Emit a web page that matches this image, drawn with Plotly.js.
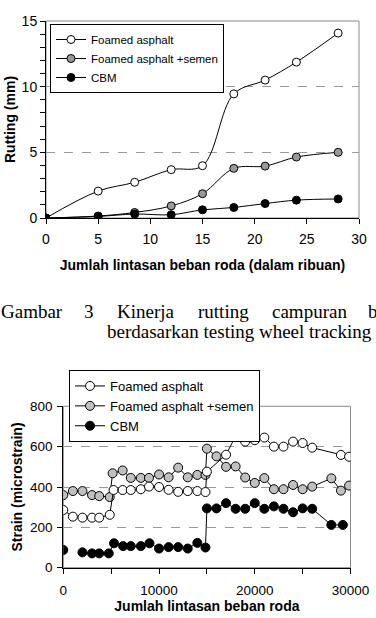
<!DOCTYPE html>
<html>
<head>
<meta charset="utf-8">
<script src="https://cdn.plot.ly/plotly-3.0.1.min.js"></script>
<style>html,body{margin:0;padding:0;background:#fff;}#chart{width:376px;height:618px;}</style>
</head>
<body>
<div id="chart"></div>
<script>
// ---- Chart 1: Rutting (x in thousands of passes) ----
const passes1 = [0, 5, 8.5, 12, 15, 18, 21, 24, 28];
const rutFoamed = [0, 2.05, 2.72, 3.68, 3.98, 9.45, 10.5, 11.87, 14.08];
const rutFoamedSemen = [0, 0.15, 0.42, 0.92, 1.85, 3.78, 3.95, 4.64, 5.0];
const rutCBM = [0, 0.12, 0.3, 0.25, 0.62, 0.8, 1.1, 1.36, 1.45];

// ---- Chart 2: Strain ----
const passesFoamed2 = [0,1000,2000,3000,3750,4850,5250,6200,7050,8100,8950,10000,11000,12000,13000,14000,14850,15000,17000,18000,19000,20000,21000,22000,23000,24000,25000,26000,29000,29850];
const strainFoamed = [286,253,248,248,248,262,385,385,385,389,402,400,386,376,380,380,375,476,560,652,625,632,645,600,600,625,618,595,559,550];
const passesSemen2 = [0,1000,2000,3000,3750,4850,5150,6200,7050,8100,8950,10000,11000,12000,13000,14000,14850,15000,16000,17000,18000,19000,20000,21000,22000,23000,24000,25000,26000,28000,29000,29850];
const strainSemen = [360,380,380,360,355,350,468,482,445,445,445,462,448,496,448,460,460,590,552,500,502,447,420,444,389,389,410,389,402,443,382,407];
const passesCBM2 = [0,1000,2000,3000,3750,4750,5300,6250,7050,8100,9000,10000,11000,12000,13000,14000,14850,15000,16000,17000,18000,19000,20000,21000,22000,23000,24000,25000,26000,28000,29200];
const strainCBM = [88,null,76,71,71,71,121,107,107,107,121,95,102,102,95,123,100,294,294,320,292,292,320,292,304,292,275,294,292,212,212];

const seriesNames = ['Foamed asphalt', 'Foamed asphalt +semen', 'CBM'];
const caption1 = ['Gambar', '3', 'Kinerja', 'rutting', 'campuran', 'b'];
const caption2 = 'berdasarkan testing wheel tracking';

const SANS = 'Liberation Sans, Arial, sans-serif';
const SERIF = 'Liberation Serif, Times New Roman, serif';
const W = 376, H = 618;
const px = v => v / W;
const py = v => 1 - v / H;

function tr(x, y, name, fill, size, shape, xa, ya, leg, rank) {
  return {
    x: x, y: y, name: name, type: 'scatter', mode: 'lines+markers',
    xaxis: xa, yaxis: ya, legend: leg, legendrank: rank, legendgroup: leg + name,
    line: {color: '#000', width: 1, shape: shape, smoothing: 1},
    marker: {symbol: 'circle', size: size, color: fill, line: {color: '#000', width: 1}},
    connectgaps: false, hoverinfo: 'x+y'
  };
}

const data = [
  tr(passes1, rutFoamedSemen, seriesNames[1], '#999999', 8, 'spline', 'x', 'y', 'legend', 2),
  tr(passes1, rutFoamed, seriesNames[0], '#ffffff', 8, 'spline', 'x', 'y', 'legend', 1),
  tr(passes1, rutCBM, seriesNames[2], '#000000', 8, 'spline', 'x', 'y', 'legend', 3),
  tr(passesSemen2, strainSemen, seriesNames[1], '#c0c0c0', 9, 'linear', 'x2', 'y2', 'legend2', 2),
  tr(passesFoamed2, strainFoamed, seriesNames[0], '#ffffff', 9, 'linear', 'x2', 'y2', 'legend2', 1),
  tr(passesCBM2, strainCBM, seriesNames[2], '#000000', 9, 'linear', 'x2', 'y2', 'legend2', 3)
];

const capX = [-1, 82, 115, 196, 270, 366];
const annotations = caption1.map((w, i) => ({
  text: w, xref: 'paper', yref: 'paper', x: px(capX[i]), y: py(311), xanchor: 'left', yanchor: 'middle',
  showarrow: false, font: {family: SERIF, size: 19, color: '#000'}
}));
annotations.push({
  text: caption2, xref: 'paper', yref: 'paper', x: px(105), y: py(331), xanchor: 'left', yanchor: 'middle',
  showarrow: false, font: {family: SERIF, size: 19, color: '#000'}
});

const baseAxis = {
  showline: true, linecolor: '#000', linewidth: 1, ticks: 'outside', ticklen: 5, tickcolor: '#000',
  zeroline: false, automargin: false, fixedrange: true
};

const layout = {
  width: W, height: H,
  margin: {l: 0, r: 0, t: 0, b: 0},
  paper_bgcolor: '#fff', plot_bgcolor: '#fff',
  font: {family: SANS, color: '#000'},
  showlegend: true,
  separators: '.,',
  xaxis: Object.assign({}, baseAxis, {
    domain: [px(46), px(359)], anchor: 'y', range: [0, 30], dtick: 5, tick0: 0,
    showgrid: false, tickfont: {size: 14, family: SANS}, ticklabelstandoff: 3,
    title: {text: 'Jumlah lintasan beban roda (dalam ribuan)', font: {size: 14, family: SANS, weight: 'bold'}, standoff: 14}
  }),
  yaxis: Object.assign({}, baseAxis, {
    domain: [py(218), py(21)], anchor: 'x', range: [0, 15], dtick: 5, tick0: 0,
    showgrid: true, gridcolor: '#999', griddash: 'dash', gridwidth: 1,
    minor: {dtick: 1, ticks: 'outside', ticklen: 5, tickcolor: '#000', showgrid: false},
    tickfont: {size: 14, family: SANS},
    title: {text: 'Rutting (mm)', font: {size: 14, family: SANS, weight: 'bold'}, standoff: 2}
  }),
  xaxis2: Object.assign({}, baseAxis, {
    domain: [px(63.3), px(350.5)], anchor: 'y2', range: [0, 30000], dtick: 10000, tick0: 0,
    tickformat: 'd', exponentformat: 'none',
    minor: {dtick: 5000, ticks: 'outside', ticklen: 5, tickcolor: '#000', showgrid: false},
    showgrid: false, tickfont: {size: 13.5, family: SANS}, ticklabelstandoff: 5,
    title: {text: 'Jumlah lintasan beban roda', font: {size: 14, family: SANS, weight: 'bold'}, standoff: 3}
  }),
  yaxis2: Object.assign({}, baseAxis, {
    domain: [py(567.7), py(406.3)], anchor: 'x2', range: [0, 800], dtick: 200, tick0: 0,
    showgrid: true, gridcolor: '#999', griddash: 'dash', gridwidth: 1,
    tickfont: {size: 13.5, family: SANS}, ticklabelstandoff: 2,
    title: {text: 'Strain (microstrain)', font: {size: 14, family: SANS, weight: 'bold'}, standoff: 4}
  }),
  legend: {
    x: px(50), y: py(24), xanchor: 'left', yanchor: 'top',
    bgcolor: '#fff', bordercolor: '#000', borderwidth: 1,
    font: {size: 11.5, family: SANS}, tracegroupgap: 2, traceorder: 'normal'
  },
  legend2: {
    x: px(69), y: py(370), xanchor: 'left', yanchor: 'top',
    bgcolor: '#fff', bordercolor: '#000', borderwidth: 1,
    font: {size: 13, family: SANS}, tracegroupgap: 0, traceorder: 'normal'
  },
  shapes: [
    {type: 'rect', xref: 'x domain', yref: 'y domain', x0: 0, x1: 1, y0: 0, y1: 1, line: {color: '#888', width: 1}, layer: 'below'},
    {type: 'rect', xref: 'x2 domain', yref: 'y2 domain', x0: 0, x1: 1, y0: 0, y1: 1, line: {color: '#888', width: 1}, layer: 'below'}
  ],
  annotations: annotations
};

Plotly.newPlot('chart', data, layout, {displayModeBar: false, staticPlot: false, responsive: false});
</script>
</body>
</html>
